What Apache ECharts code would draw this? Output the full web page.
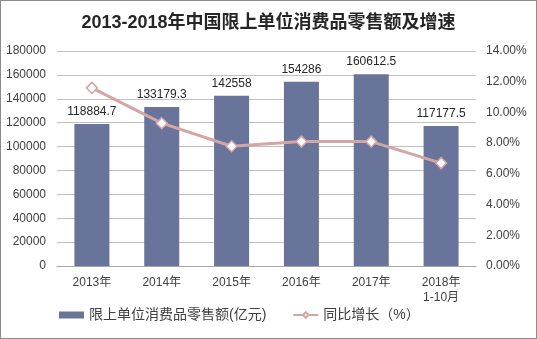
<!DOCTYPE html>
<html>
<head>
<meta charset="utf-8">
<script src="https://cdn.jsdelivr.net/npm/echarts@6/dist/echarts.min.js"></script>
<style>
html,body{margin:0;padding:0;background:#fff;}
#chart{width:537px;height:339px;box-sizing:border-box;border:1px solid #8c8c8c;}
</style>
</head>
<body>
<div id="chart"></div>
<script>
// 年份
const categories = ['2013年', '2014年', '2015年', '2016年', '2017年', '2018年\n1-10月'];
// 限上单位消费品零售额(亿元)
const salesValues = [118884.7, 133179.3, 142558, 154286, 160612.5, 117177.5];
// 同比增长(%)
const growthValues = [11.6, 9.3, 7.8, 8.1, 8.1, 6.7];

const font = '"Liberation Sans", Arial, "Noto Sans CJK SC", sans-serif';
const chart = echarts.init(document.getElementById('chart'));
chart.setOption({
  animation: false,
  textStyle: { fontFamily: font },
  title: {
    text: '2013-2018年中国限上单位消费品零售额及增速',
    left: 'center', top: 8,
    textStyle: { fontSize: 18, fontWeight: 'bold', color: '#262626', fontFamily: font }
  },
  legend: {
    bottom: 11, left: 53, itemGap: 26,
    itemWidth: 25, itemHeight: 7,
    textStyle: { fontSize: 14, color: '#404040', fontFamily: font },
    data: [
      { name: '限上单位消费品零售额(亿元)', icon: 'rect' },
      { name: '同比增长（%）' }
    ]
  },
  grid: { left: 56, right: 60, top: 50, bottom: 72 },
  xAxis: {
    type: 'category',
    data: categories,
    axisLine: { lineStyle: { color: '#a6a6a6' } },
    axisTick: { show: false },
    axisLabel: { color: '#404040', fontSize: 12, margin: 9, lineHeight: 15 }
  },
  yAxis: [
    {
      type: 'value', min: 0, max: 180000, interval: 20000,
      axisLine: { show: false }, axisTick: { show: false },
      axisLabel: { color: '#404040', fontSize: 12, margin: 11, formatter: v => String(v) },
      splitLine: { lineStyle: { color: '#bfbfbf' } }
    },
    {
      type: 'value', min: 0, max: 14, interval: 2,
      axisLine: { show: false }, axisTick: { show: false },
      axisLabel: { color: '#404040', fontSize: 12, margin: 10,
        formatter: v => v.toFixed(2) + '%' },
      splitLine: { show: false }
    }
  ],
  series: [
    {
      name: '限上单位消费品零售额(亿元)',
      type: 'bar',
      data: salesValues,
      barWidth: 35,
      itemStyle: { color: '#68749a' },
      label: { show: true, position: 'top', color: '#262626', fontSize: 12, distance: 6 }
    },
    {
      name: '同比增长（%）',
      type: 'line',
      yAxisIndex: 1,
      data: growthValues,
      symbol: 'diamond', symbolSize: 11,
      lineStyle: { color: '#d3a6a6', width: 3 },
      itemStyle: { color: '#ffffff', borderColor: '#d3a6a6', borderWidth: 1.5 }
    }
  ]
});
</script>
</body>
</html>
